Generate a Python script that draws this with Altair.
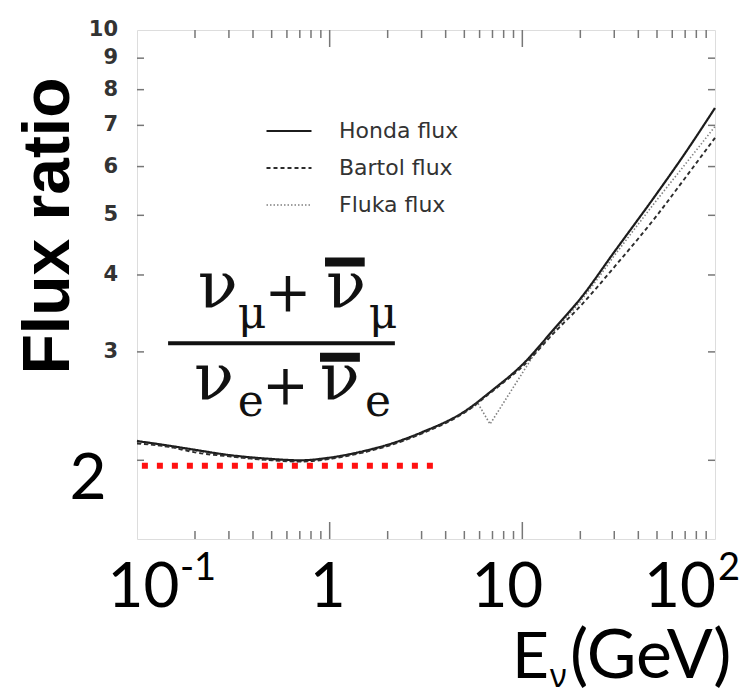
import altair as alt
import pandas as pd

# ---------------- data ----------------
SERIES = ["Honda flux", "Bartol flux", "Fluka flux"]

E_HONDA = [0.1, 0.15, 0.2, 0.3, 0.5, 0.7, 1, 1.5, 2, 3, 5, 7, 10, 15, 20, 30, 50, 70, 100]
R_HONDA = [2.15, 2.11, 2.08, 2.04, 2.01, 2.00, 2.02, 2.07, 2.12, 2.22, 2.40, 2.60, 2.86, 3.30, 3.66, 4.36, 5.43, 6.31, 7.47]

E_BARTOL = [0.1, 0.15, 0.2, 0.3, 0.5, 0.7, 1, 1.5, 2, 3, 5, 7, 10, 15, 20, 30, 50, 70, 100]
R_BARTOL = [2.13, 2.10, 2.06, 2.03, 2.00, 1.99, 2.01, 2.06, 2.11, 2.21, 2.39, 2.59, 2.84, 3.25, 3.56, 4.12, 5.00, 5.75, 6.68]

E_FLUKA = [0.1, 0.15, 0.2, 0.3, 0.4, 0.5, 0.7, 1, 1.5, 2, 2.5, 3, 4, 5, 5.9, 6.8, 11.5, 15, 20, 25, 30, 40, 50, 70, 100]
R_FLUKA = [2.14, 2.10, 2.07, 2.03, 2.01, 2.00, 1.99, 2.01, 2.06, 2.11, 2.16, 2.21, 2.30, 2.39, 2.47, 2.29, 2.97, 3.27, 3.62, 3.97, 4.30, 4.84, 5.30, 6.05, 6.97]

REF_E = [0.106, 3.6]
REF_R = [1.96, 1.96]

Y_LABEL_VALUES = [3, 4, 5, 6, 7, 8, 9, 10]
Y_TICK_VALUES = [2, 3, 4, 5, 6, 7, 8, 9]
X_MINOR_TICKS = [0.2, 0.3, 0.4, 0.5, 0.6, 0.7, 0.8, 0.9,
                 2, 3, 4, 5, 6, 7, 8, 9,
                 20, 30, 40, 50, 60, 70, 80, 90]
X_MAJOR_TICKS = [1, 10]
X_LABEL_VALUES = [0.1, 1, 10, 100]
X_LABEL_BASE = ["10", "1", "10", "10"]
X_LABEL_EXP = ["-1", "", "", "2"]

# fraction annotation (placed in data coordinates: GeV, ratio)
FRAC_NU_X = [0.263, 1.216, 0.251, 1.13]
FRAC_NU_Y = [3.54, 3.54, 2.51, 2.51]
FRAC_NU_T = ["ν", "ν", "ν", "ν"]
FRAC_SUB_X = [0.396, 1.89, 0.39, 1.78]
FRAC_SUB_Y = [3.28, 3.28, 2.36, 2.36]
FRAC_SUB_T = ["μ", "μ", "e", "e"]
FRAC_PLUS_X = [0.608, 0.59]
FRAC_PLUS_Y = [3.49, 2.47]
FRAC_BAR_X = [0.946, 0.891]
FRAC_BAR_X2 = [1.52, 1.435]
FRAC_BAR_Y = [4.2, 2.94]
FRAC_LINE_X = [0.145]
FRAC_LINE_X2 = [2.18]
FRAC_LINE_Y = [3.10]

# ---------------- layout ----------------
W, H = 578, 509
xs = alt.Scale(type="log", domain=[0.1, 100], nice=False)
ys = alt.Scale(type="log", domain=[1.49, 10], nice=False)

rows = []
for name, es, rs in [("Honda flux", E_HONDA, R_HONDA),
                     ("Bartol flux", E_BARTOL, R_BARTOL),
                     ("Fluka flux", E_FLUKA, R_FLUKA)]:
    for e, r in zip(es, rs):
        rows.append({"series": name, "E": e, "R": r})
df = pd.DataFrame(rows)

legend_def = alt.Legend(
    orient="none", legendX=128, legendY=91, title=None,
    symbolType="stroke", symbolSize=2025, clipHeight=20, rowPadding=15,
    labelOffset=26, labelFont="DejaVu Sans", labelFontSize=22, labelColor="#333",
    padding=0, symbolStrokeWidth=2.5,
)

X = lambda f: alt.X(f, scale=xs, axis=None)
Y = lambda f: alt.Y(f, scale=ys, axis=None)

enc = dict(
    x=X("E:Q"),
    y=Y("R:Q"),
    color=alt.Color("series:N", scale=alt.Scale(domain=SERIES, range=["#1c1c1c", "#2c2c2c", "#808080"]),
                    legend=legend_def),
    strokeDash=alt.StrokeDash("series:N", scale=alt.Scale(domain=SERIES, range=[[1, 0], [4, 3], [1.5, 2]]),
                              legend=legend_def),
    strokeWidth=alt.StrokeWidth("series:N", scale=alt.Scale(domain=SERIES, range=[2.2, 1.6, 1.4]), legend=None),
)
base = alt.Chart(df)
smooth_lines = base.transform_filter(alt.datum.series != "Fluka flux").mark_line(interpolate="monotone").encode(**enc)
fluka_line = base.transform_filter(alt.datum.series == "Fluka flux").mark_line().encode(**enc)

ref = alt.Chart(pd.DataFrame({"E": REF_E, "R": REF_R})).mark_line(
    color="#ff1010", strokeWidth=6, strokeDash=[6, 9]
).encode(x=X("E:Q"), y=Y("R:Q"))

tick_style = dict(color="#777", strokeWidth=1.5)
ytick_df = pd.DataFrame({"v": Y_TICK_VALUES})
yl = alt.Chart(ytick_df).mark_rule(**tick_style).encode(y=Y("v:Q"), x=alt.value(0), x2=alt.value(7))
yr = alt.Chart(ytick_df).mark_rule(**tick_style).encode(y=Y("v:Q"), x=alt.value(W - 7), x2=alt.value(W))
xmin_df = pd.DataFrame({"v": X_MINOR_TICKS})
xmaj_df = pd.DataFrame({"v": X_MAJOR_TICKS})
xb = alt.Chart(xmin_df).mark_rule(**tick_style).encode(x=X("v:Q"), y=alt.value(H), y2=alt.value(H - 8))
xt = alt.Chart(xmin_df).mark_rule(**tick_style).encode(x=X("v:Q"), y=alt.value(0), y2=alt.value(8))
xbM = alt.Chart(xmaj_df).mark_rule(**tick_style).encode(x=X("v:Q"), y=alt.value(H), y2=alt.value(H - 17))
xtM = alt.Chart(xmaj_df).mark_rule(**tick_style).encode(x=X("v:Q"), y=alt.value(0), y2=alt.value(17))

# y tick labels through the y scale
ylab = alt.Chart(pd.DataFrame({"v": Y_LABEL_VALUES})).mark_text(
    font="DejaVu Sans", fontWeight="bold", fontSize=21, color="#333", align="right", baseline="middle"
).encode(y=Y("v:Q"), x=alt.value(-19), text=alt.Text("v:Q", format="d"))

ytitle = alt.Chart().mark_text(
    text="Flux ratio", font="Liberation Sans", fontWeight="bold", fontSize=66, color="#000",
    angle=270, align="center", baseline="alphabetic"
).encode(x=alt.value(-68), y=alt.value(196))

# fraction
nu = alt.Chart(pd.DataFrame({"x": FRAC_NU_X, "y": FRAC_NU_Y, "t": FRAC_NU_T})).mark_text(
    font="DejaVu Serif", fontSize=66, color="#111", align="center", baseline="alphabetic"
).encode(x=X("x:Q"), y=Y("y:Q"), text="t:N")
sub = alt.Chart(pd.DataFrame({"x": FRAC_SUB_X, "y": FRAC_SUB_Y, "t": FRAC_SUB_T})).mark_text(
    font="DejaVu Serif", fontSize=44, color="#111", align="center", baseline="alphabetic"
).encode(x=X("x:Q"), y=Y("y:Q"), text="t:N")
plus = alt.Chart(pd.DataFrame({"x": FRAC_PLUS_X, "y": FRAC_PLUS_Y, "t": ["+", "+"]})).mark_text(
    font="DejaVu Serif", fontSize=56, color="#111", align="center", baseline="alphabetic"
).encode(x=X("x:Q"), y=Y("y:Q"), text="t:N")
bars = alt.Chart(pd.DataFrame({"x": FRAC_BAR_X, "x2": FRAC_BAR_X2, "y": FRAC_BAR_Y})).mark_rule(
    color="#111", strokeWidth=9
).encode(x=X("x:Q"), x2="x2:Q", y=Y("y:Q"))
fline = alt.Chart(pd.DataFrame({"x": FRAC_LINE_X, "x2": FRAC_LINE_X2, "y": FRAC_LINE_Y})).mark_rule(
    color="#111", strokeWidth=4
).encode(x=X("x:Q"), x2="x2:Q", y=Y("y:Q"))

# big axis labels
BASE_DX = [6.5, -2, -15, -35]
EXP_DX = [43, 0, 0, 3]
label_layers = []
for v, b, e, bdx, edx in zip(X_LABEL_VALUES, X_LABEL_BASE, X_LABEL_EXP, BASE_DX, EXP_DX):
    label_layers.append(
        alt.Chart().mark_text(text=b, font="Lato", fontSize=62, color="#000", align="center",
                              baseline="alphabetic", dx=bdx)
        .encode(x=alt.datum(v, scale=xs), y=alt.value(577))
    )
    if e:
        label_layers.append(
            alt.Chart().mark_text(text=e, font="Lato", fontSize=38, color="#000", align="left",
                                  baseline="alphabetic", dx=edx)
            .encode(x=alt.datum(v, scale=xs), y=alt.value(550))
        )

two = alt.Chart().mark_text(text="2", font="Lato", fontSize=64, color="#000", align="center",
                            baseline="alphabetic").encode(x=alt.value(-49), y=alt.value(469))
e_txt = alt.Chart().mark_text(text="E", font="Lato", fontSize=64, color="#000", align="left",
                              baseline="alphabetic").encode(x=alt.value(375), y=alt.value(648))
nu_txt = alt.Chart().mark_text(text="ν", font="Noto Sans", fontSize=32, color="#000", align="left",
                               baseline="alphabetic").encode(x=alt.value(413), y=alt.value(657))
gev_txt = alt.Chart().mark_text(text="(GeV)", font="Lato", fontSize=68, color="#000", align="left",
                                baseline="alphabetic").encode(x=alt.value(433), y=alt.value(648))

chart = alt.layer(
    ref, yl, yr, xb, xt, xbM, xtM, fline, bars, nu, sub, plus, fluka_line, smooth_lines,
    ylab, ytitle, *label_layers, two, e_txt, nu_txt, gev_txt
).properties(
    width=W, height=H, autosize="none",
    padding={"left": 137, "top": 30, "right": 40, "bottom": 156},
).configure_view(stroke="#777", strokeWidth=2).configure(background="white")

chart.save("out.html", embed_options={"renderer": "svg", "actions": False})
